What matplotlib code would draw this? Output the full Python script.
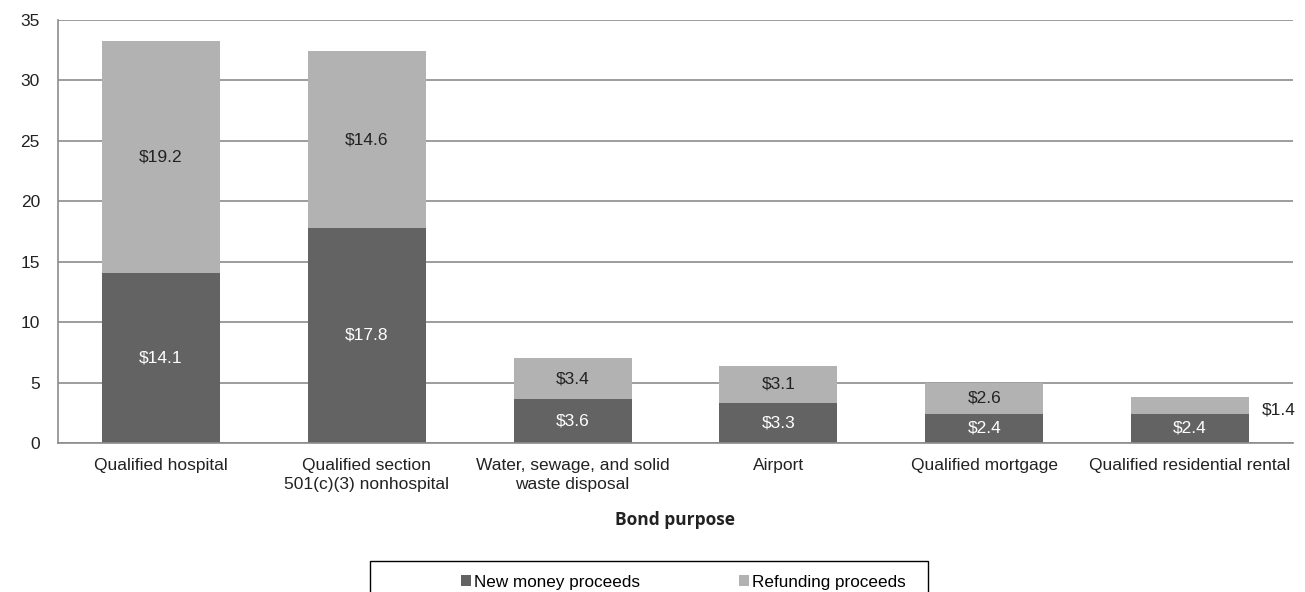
import matplotlib
matplotlib.use("Agg")
import matplotlib.pyplot as plt
from matplotlib.patches import Rectangle
import numpy as np

categories = ["Qualified hospital", "Qualified section\n501(c)(3) nonhospital",
              "Water, sewage, and solid\nwaste disposal", "Airport",
              "Qualified mortgage", "Qualified residential rental"]
new_money = [14.1, 17.8, 3.6, 3.3, 2.4, 2.4]
refunding = [19.2, 14.6, 3.4, 3.1, 2.6, 1.4]
yticks = [0, 5, 10, 15, 20, 25, 30, 35]

plt.rcParams['font.family'] = ['Liberation Sans', 'DejaVu Sans']
DARK = "#636363"
LIGHT = "#b2b2b2"
GRID = "#8c8c8c"
FS = 12.5

W, H = 1305, 592
fig = plt.figure(figsize=(W/100, H/100), dpi=100)
ax = fig.add_axes([58/W, 1-443/H, (1293-58)/W, (443-20)/H])

x = np.arange(len(categories))
bw = 0.573
b1 = ax.bar(x, new_money, bw, color=DARK, label="New money proceeds", zorder=3)
b2 = ax.bar(x, refunding, bw, bottom=new_money, color=LIGHT, label="Refunding proceeds", zorder=3)

ax.set_xlim(-0.5, len(categories)-0.5)
ax.set_ylim(0, 35)
ax.set_yticks(yticks)
ax.set_yticklabels([str(t) for t in yticks], fontsize=FS, color="#222222")
ax.set_xticks(x)
ax.set_xticklabels(categories, fontsize=FS, color="#222222", linespacing=1.35)
ax.tick_params(axis='both', length=0)
ax.tick_params(axis='y', pad=13)
ax.tick_params(axis='x', pad=11)
ax.yaxis.grid(True, color=GRID, linewidth=1.2, zorder=0)
for s in ["top", "right"]:
    ax.spines[s].set_visible(False)
for s in ["left", "bottom"]:
    ax.spines[s].set_color(GRID)
    ax.spines[s].set_linewidth(1.2)
ax.spines["bottom"].set_zorder(4)

for i in range(len(categories)):
    ax.text(x[i], new_money[i]/2, f"${new_money[i]:.1f}", ha='center', va='center',
            fontsize=FS, color="white", zorder=5)
    if i < len(categories) - 1:
        ax.text(x[i], new_money[i] + refunding[i]/2, f"${refunding[i]:.1f}", ha='center',
                va='center', fontsize=FS, color="#222222", zorder=5)
    else:
        ax.annotate(f"${refunding[i]:.1f}", xy=(x[i] + bw/2, new_money[i] + refunding[i]/2),
                    xytext=(9, -3), textcoords='offset points', ha='left', va='center',
                    fontsize=FS, color="#222222", annotation_clip=False)

fig.text(675/W, 1-520/H, "Bond purpose", ha='center', va='center', fontsize=12.5,
         fontweight='bold', family=['Open Sans', 'DejaVu Sans'], color="#222222")

fig.patches.append(Rectangle((370/W, -0.01), (928-370)/W, (1-561/H)+0.01, transform=fig.transFigure,
                             fill=False, edgecolor="black", linewidth=1.0))
leg = fig.legend(handles=[b1, b2], loc='center left', bbox_to_anchor=(461/W, 1-582/H), ncol=2,
                 frameon=False, fontsize=12.3, handlelength=0.6, handleheight=0.6,
                 handletextpad=0.15, columnspacing=5.8, borderpad=0, borderaxespad=0)

fig.savefig("out.png", dpi=100)
